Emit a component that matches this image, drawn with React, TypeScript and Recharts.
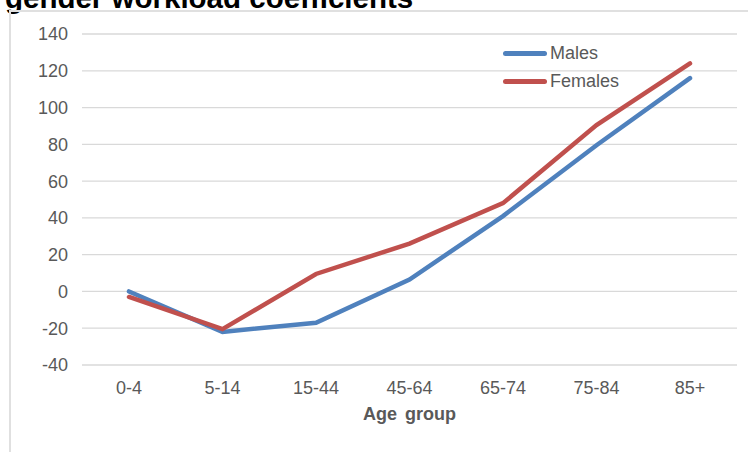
import React from 'react';
import { LineChart, Line, XAxis, YAxis, CartesianGrid, Legend } from 'recharts';

const AGE_GROUPS = ['0-4', '5-14', '15-44', '45-64', '65-74', '75-84', '85+'];
const MALES = [0, -22, -17, 6.5, 41, 79.5, 116];
const FEMALES = [-3, -20.5, 9.5, 26, 48, 90.5, 124];
const Y_TICKS = [-40, -20, 0, 20, 40, 60, 80, 100, 120, 140];
const SERIES_ORDER = ['Males', 'Females'];

const data = AGE_GROUPS.map((group, i) => ({ group, males: MALES[i], females: FEMALES[i] }));

const FONT = '"Liberation Sans", Arial, sans-serif';
const TEXT_GREY = '#595959';

const renderLegend = (props: any) => {
  const items = [...(props.payload || [])].sort(
    (a: any, b: any) => SERIES_ORDER.indexOf(a.value) - SERIES_ORDER.indexOf(b.value)
  );
  return (
    <div>
      {items.map((item: any) => (
        <div key={item.value} style={{ display: 'flex', alignItems: 'center', height: 28 }}>
          <span style={{ width: 44, height: 5, borderRadius: 3, background: item.color, display: 'inline-block' }} />
          <span style={{ marginLeft: 3, fontSize: 18, color: TEXT_GREY, fontFamily: FONT }}>{item.value}</span>
        </div>
      ))}
    </div>
  );
};

const App: React.FC = () => {
  return (
    <div style={{ position: 'absolute', left: 0, top: 0, width: 748, height: 452, overflow: 'hidden', background: '#fff' }}>
      <div
        style={{
          position: 'absolute',
          left: 5,
          top: -17,
          fontFamily: FONT,
          fontWeight: 'bold',
          fontSize: 29.5,
          lineHeight: '30px',
          color: '#000',
          whiteSpace: 'nowrap',
        }}
      >
        gender workload coefficients
      </div>
      <div
        style={{
          position: 'absolute',
          left: 9,
          top: 10,
          width: 760,
          height: 460,
          borderLeft: '2px solid #e0e0e0',
          borderTop: '2px solid #e0e0e0',
        }}
      />
      <div style={{ position: 'absolute', left: 0, top: 0 }}>
        <LineChart width={748} height={452} data={data} margin={{ top: 34, right: 11, bottom: 27, left: 0 }}>
          <CartesianGrid vertical={false} stroke="#d9d9d9" strokeWidth={1.3} />
          <XAxis
            dataKey="group"
            axisLine={false}
            tickLine={false}
            height={60}
            padding={{ left: 47, right: 47 }}
            tick={{ fill: TEXT_GREY, fontSize: 18, fontFamily: FONT }}
            tickMargin={10}
            label={{
              value: 'Age group',
              position: 'insideBottom',
              offset: 5,
              fill: TEXT_GREY,
              fontSize: 18,
              fontWeight: 'bold',
              fontFamily: FONT,
              style: { wordSpacing: 3 },
            }}
          />
          <YAxis
            domain={[-40, 140]}
            ticks={Y_TICKS}
            interval={0}
            width={82}
            axisLine={false}
            tickLine={false}
            tickMargin={8}
            tick={{ fill: TEXT_GREY, fontSize: 18, fontFamily: FONT }}
          />
          <Legend
            layout="vertical"
            verticalAlign="middle"
            align="center"
            content={renderLegend}
            wrapperStyle={{ position: 'absolute', left: 503, top: 39, width: 160 }}
          />
          <Line
            type="linear"
            dataKey="males"
            name="Males"
            stroke="#4f81bd"
            strokeWidth={4.5}
            dot={false}
            strokeLinecap="round"
            isAnimationActive={false}
          />
          <Line
            type="linear"
            dataKey="females"
            name="Females"
            stroke="#c0504d"
            strokeWidth={4.5}
            dot={false}
            strokeLinecap="round"
            isAnimationActive={false}
          />
        </LineChart>
      </div>
    </div>
  );
};

export default App;
